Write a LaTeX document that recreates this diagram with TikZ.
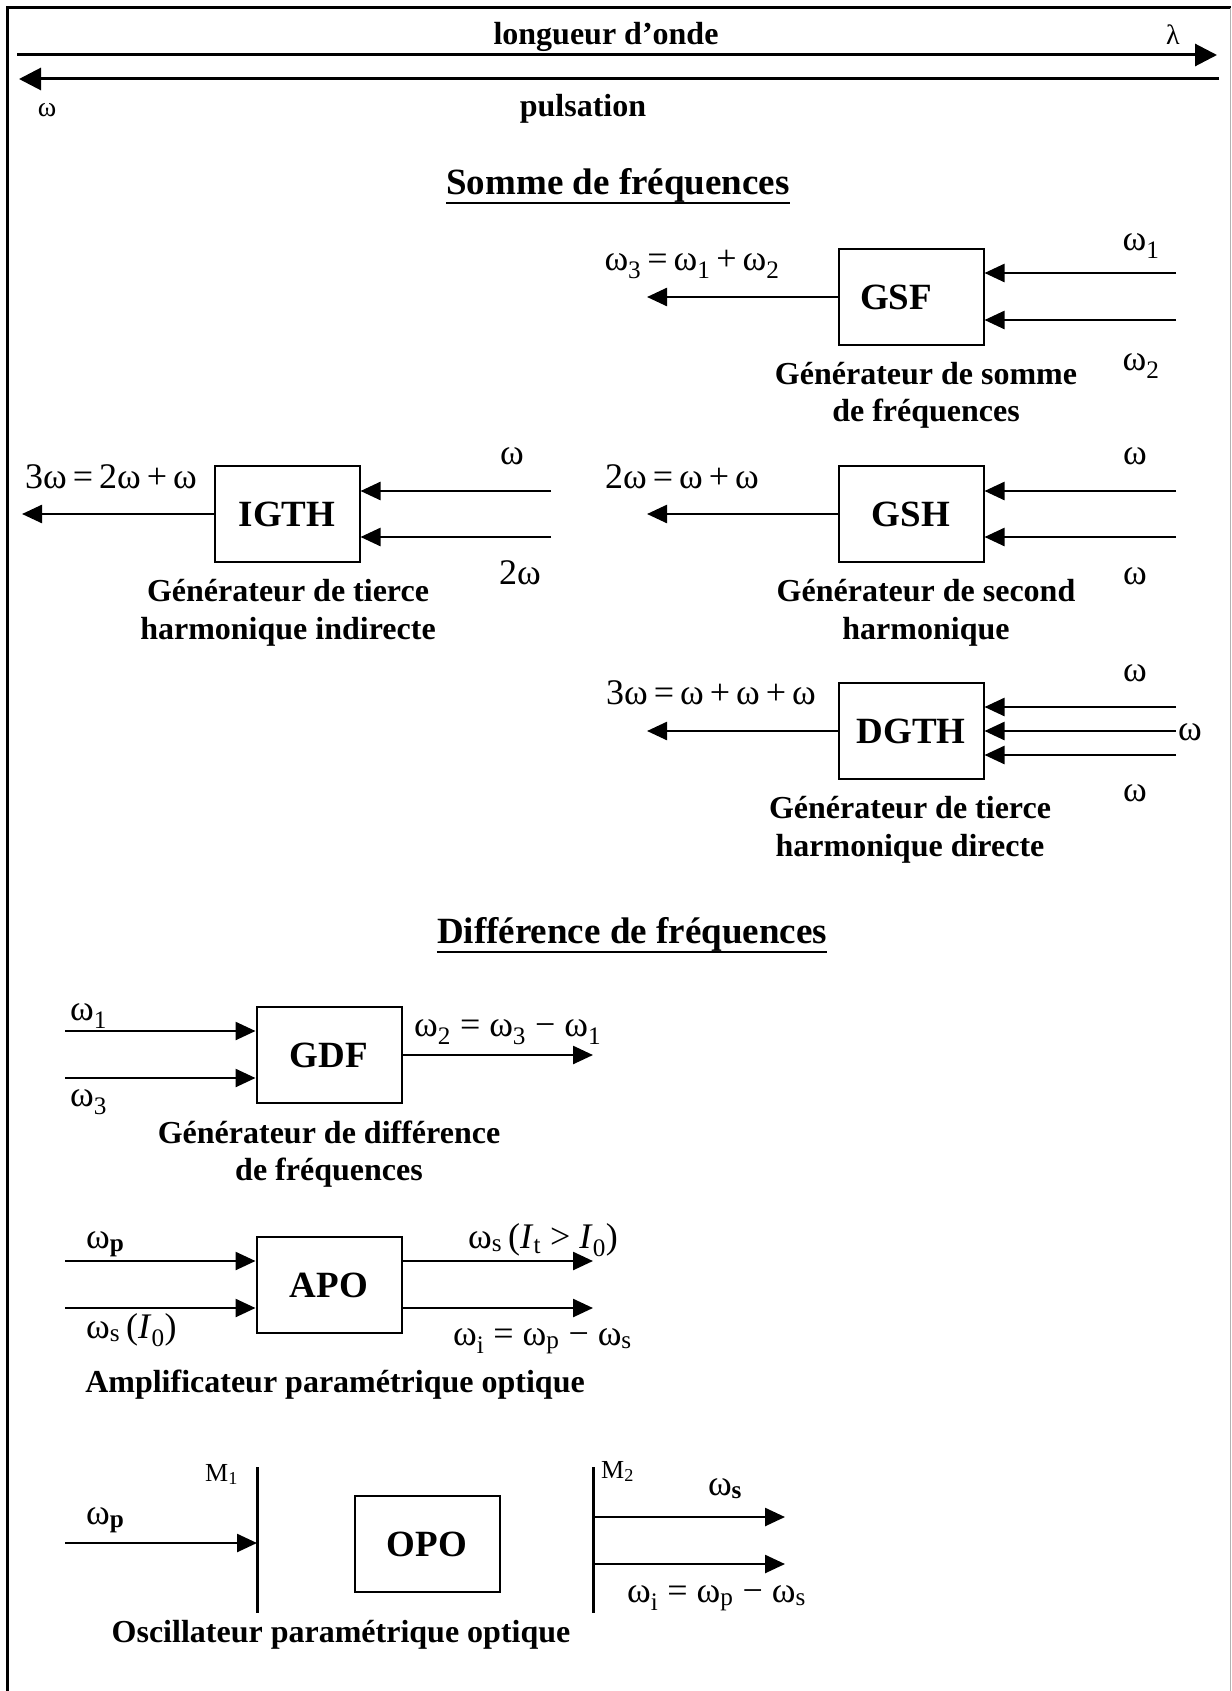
\documentclass[tikz,border=0pt]{standalone}
\usepackage{fontspec}
\setmainfont{Liberation Serif}
\usetikzlibrary{arrows.meta}
\newcommand\sbs[1]{\textsubscript{#1}}
\tikzset{
  box/.style={draw, line width=2pt, minimum width=145pt, minimum height=96pt, inner sep=0pt, font=\fontsize{37}{40}\selectfont\bfseries},
  sig/.style={line width=2.5pt, -{Triangle[length=20pt,width=18pt]}},
  bigsig/.style={line width=3pt, -{Triangle[length=22pt,width=22pt]}},
  mirror/.style={line width=3pt},
  hd/.style={font=\fontsize{32}{38}\selectfont\bfseries, anchor=base, inner sep=0pt},
  ttl/.style={font=\fontsize{37}{42}\selectfont\bfseries, anchor=base, inner sep=0pt},
  captxt/.style={font=\fontsize{32}{38}\selectfont\bfseries, anchor=base, inner sep=0pt},
  lab/.style={font=\fontsize{36}{40}\selectfont, anchor=base, inner sep=0pt},
  labw/.style={lab, anchor=base west},
  small/.style={font=\fontsize{28}{32}\selectfont, anchor=base, inner sep=0pt},
  smallw/.style={font=\fontsize{26}{30}\selectfont, anchor=base west, inner sep=0pt},
  uline/.style={line width=2pt}
}
\begin{document}
\begin{tikzpicture}[x=1pt,y=-1pt]
\useasboundingbox (0,0) rectangle (1231,1691);
\fill[white] (0,0) rectangle (1231,1691);
% frame
\draw[line width=3pt] (7,1691) -- (7,8) -- (1231,8);
\draw[black!30, line width=1pt] (1230,8) -- (1230,1691);

% axes
\coordinate (l1a) at (17,55); \coordinate (l1b) at (1217,55);
\coordinate (l2a) at (1219,79); \coordinate (l2b) at (19,79);
\draw[bigsig] (l1a) -- (l1b);
\draw[bigsig] (l2a) -- (l2b);
\node[hd] (lo) at (606,45) {longueur d’onde};
\node[small] (lam) at (1173,45) {λ};
\node[small] (om0) at (47,117) {ω};
\node[hd] (pu) at (583,117) {pulsation};

% Somme
\node[ttl] (t1) at (618,194) {Somme de fréquences};
\draw[uline] ([yshift=-9pt]t1.base west) -- ([yshift=-9pt]t1.base east);

% GSF
\node[box] (gsf) at (911,297) {GSF\kern30pt};
\coordinate (gsf1) at (1176,273); \coordinate (gsf2) at (1176,320); \coordinate (gsfo) at (647,297);
\draw[sig] (gsf1) -- (gsf1 -| gsf.east);
\draw[sig] (gsf2) -- (gsf2 -| gsf.east);
\draw[sig] (gsf.west) -- (gsfo);
\node[lab] (gsfw1) at (1141,250) {ω\sbs{1}};
\node[lab] (gsfw2) at (1141,370) {ω\sbs{2}};
\node[lab] (gsfeq) at (692,270) {ω\sbs{3}\,=\,ω\sbs{1}\,+\,ω\sbs{2}};
\node[captxt] (gsfc1) at (926,384) {Générateur de somme};
\node[captxt] (gsfc2) at (926,421) {de fréquences};

% IGTH
\node[box] (igth) at (287,514) {IGTH};
\coordinate (ig1) at (551,491); \coordinate (ig2) at (551,537); \coordinate (igo) at (22,514);
\draw[sig] (ig1) -- (ig1 -| igth.east);
\draw[sig] (ig2) -- (ig2 -| igth.east);
\draw[sig] (igth.west) -- (igo);
\node[lab] (igw1) at (512,464) {ω};
\node[lab] (igw2) at (520,584) {2ω};
\node[lab] (igeq) at (111,488) {3ω\,=\,2ω\,+\,ω};
\node[captxt] (igc1) at (288,601) {Générateur de tierce};
\node[captxt] (igc2) at (288,639) {harmonique indirecte};

% GSH
\node[box] (gsh) at (911,514) {GSH};
\coordinate (gh1) at (1176,491); \coordinate (gh2) at (1176,537); \coordinate (gho) at (647,514);
\draw[sig] (gh1) -- (gh1 -| gsh.east);
\draw[sig] (gh2) -- (gh2 -| gsh.east);
\draw[sig] (gsh.west) -- (gho);
\node[lab] (ghw1) at (1135,464) {ω};
\node[lab] (ghw2) at (1135,584) {ω};
\node[lab] (gheq) at (682,488) {2ω\,=\,ω\,+\,ω};
\node[captxt] (ghc1) at (926,601) {Générateur de second};
\node[captxt] (ghc2) at (926,639) {harmonique};

% DGTH
\node[box] (dgth) at (911,731) {DGTH};
\coordinate (dg1) at (1176,707); \coordinate (dg2) at (1176,731); \coordinate (dg3) at (1176,755); \coordinate (dgo) at (647,731);
\draw[sig] (dg1) -- (dg1 -| dgth.east);
\draw[sig] (dg2) -- (dg2 -| dgth.east);
\draw[sig] (dg3) -- (dg3 -| dgth.east);
\draw[sig] (dgth.west) -- (dgo);
\node[lab] (dgw1) at (1135,681) {ω};
\node[labw] (dgw2) at (1178,740) {ω};
\node[lab] (dgw3) at (1135,801) {ω};
\node[lab] (dgeq) at (711,704) {3ω\,=\,ω\,+\,ω\,+\,ω};
\node[captxt] (dgc1) at (910,818) {Générateur de tierce};
\node[captxt] (dgc2) at (910,856) {harmonique directe};

% Difference
\node[ttl] (t2) at (632,943) {Différence de fréquences};
\draw[uline] ([yshift=-9pt]t2.base west) -- ([yshift=-9pt]t2.base east);

% GDF
\node[box] (gdf) at (329,1055) {GDF};
\coordinate (gd1) at (65,1031); \coordinate (gd2) at (65,1078); \coordinate (gdo) at (593,1055);
\draw[sig] (gd1) -- (gd1 -| gdf.west);
\draw[sig] (gd2) -- (gd2 -| gdf.west);
\draw[sig] (gdf.east) -- (gdo);
\node[labw] (gdw1) at (70,1020) {ω\sbs{1}};
\node[labw] (gdw3) at (70,1106) {ω\sbs{3}};
\node[labw] (gdeq) at (414,1036) {ω\sbs{2} = ω\sbs{3} − ω\sbs{1}};
\node[captxt] (gdc1) at (329,1143) {Générateur de différence};
\node[captxt] (gdc2) at (329,1180) {de fréquences};

% APO
\node[box] (apo) at (329,1285) {APO};
\coordinate (ap1) at (65,1261); \coordinate (ap2) at (65,1308);
\coordinate (ao1) at (593,1261); \coordinate (ao2) at (593,1308);
\draw[sig] (ap1) -- (ap1 -| apo.west);
\draw[sig] (ap2) -- (ap2 -| apo.west);
\draw[sig] (ao1 -| apo.east) -- (ao1);
\draw[sig] (ao2 -| apo.east) -- (ao2);
\node[labw] (apwp) at (86,1248) {ω\sbs{\textbf{p}}};
\node[labw] (apws) at (86,1338) {ω\sbs{s}\,(\textit{I}\sbs{0})};
\node[labw] (apos) at (468,1248) {ω\sbs{s}\,(\textit{I}\sbs{t} > \textit{I}\sbs{0})};
\node[labw] (apoi) at (453,1345) {ω\sbs{i} = ω\sbs{p} − ω\sbs{s}};
\node[captxt] (apc) at (335,1392) {Amplificateur paramétrique optique};

% OPO
\node[box] (opo) at (427,1544) {OPO};
\coordinate (m1t) at (257,1467); \coordinate (m1b) at (257,1613);
\coordinate (m2t) at (593,1467); \coordinate (m2b) at (593,1613);
\draw[mirror] (m1t) -- (m1b);
\draw[mirror] (m2t) -- (m2b);
\coordinate (op1) at (65,1543);
\coordinate (oo1) at (785,1517); \coordinate (oo2) at (785,1564);
\draw[sig] (op1) -- (op1 -| m1t);
\draw[sig] (oo1 -| m2t) -- (oo1);
\draw[sig] (oo2 -| m2t) -- (oo2);
\node[smallw] (m1l) at (205,1481) {M\sbs{1}};
\node[smallw] (m2l) at (601,1478) {M\sbs{2}};
\node[labw] (opwp) at (86,1524) {ω\sbs{\textbf{p}}};
\node[lab] (opws) at (725,1495) {ω\sbs{\textbf{s}}};
\node[labw] (opwi) at (627,1602) {ω\sbs{i} = ω\sbs{p} − ω\sbs{s}};
\node[captxt] (opc) at (341,1642) {Oscillateur paramétrique optique};
\end{tikzpicture}
\end{document}
